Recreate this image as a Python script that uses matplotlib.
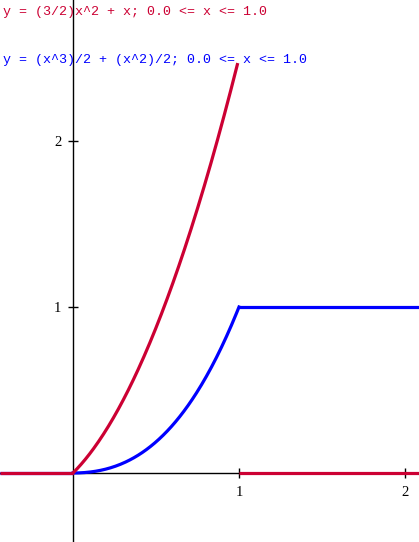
import numpy as np
import matplotlib
matplotlib.use("Agg")
import matplotlib.pyplot as plt

# Piecewise function data (polynomial coefficients, highest power first)
red_coeffs = [1.5, 1.0, 0.0]          # y = (3/2)x^2 + x on [0, 1], 0 elsewhere
blue_coeffs = [0.5, 0.5, 0.0, 0.0]    # y = x^3/2 + x^2/2 on [0, 1], 1 for x > 1
domain = [0.0, 1.0]
red_curve_end = 0.99
blue_right_value = 1.0
red_outside_value = 0.0
x_ticks = [1, 2]
y_ticks = [1, 2]
red_label = "y = (3/2)x^2 + x; 0.0 <= x <= 1.0"
blue_label = "y = (x^3)/2 + (x^2)/2; 0.0 <= x <= 1.0"

RED = "#cc0033"
BLUE = "#0000ff"
LW = 2.3

W, H = 419, 542
fig = plt.figure(figsize=(W / 100, H / 100), dpi=100)
ax = fig.add_axes([0, 0, 1, 1])

xmin, xmax = -73 / 166, (419 - 73) / 166
ymin, ymax = -(542 - 473) / 166, 473 / 166
ax.set_xlim(xmin, xmax)
ax.set_ylim(ymin, ymax)

for s in ["top", "right"]:
    ax.spines[s].set_visible(False)
ax.spines["left"].set_position(("data", 0))
ax.spines["bottom"].set_position(("data", 0))
ax.spines["left"].set_linewidth(1)
ax.spines["bottom"].set_linewidth(1)

ax.set_xticks(x_ticks)
ax.set_yticks(y_ticks)
ax.set_xticklabels([str(t) for t in x_ticks], family="Liberation Serif", fontsize=10.5)
ax.set_yticklabels([str(t) for t in y_ticks], family="Liberation Serif", fontsize=10.5)
ax.tick_params(direction="inout", length=7, width=1)
ax.tick_params(axis="x", pad=6)
ax.tick_params(axis="y", pad=5)

xs_b = np.linspace(domain[0], domain[1], 200)
xs_r = np.linspace(domain[0], red_curve_end, 200)
# blue
ax.plot([xmin, domain[0]], [0, 0], color=BLUE, lw=LW, solid_capstyle="butt", zorder=3)
ax.plot(xs_b, np.polyval(blue_coeffs, xs_b), color=BLUE, lw=LW, zorder=3)
ax.plot([domain[1], xmax], [blue_right_value, blue_right_value], color=BLUE, lw=LW,
        solid_capstyle="butt", zorder=3)
# red
ax.plot([xmin, domain[0]], [red_outside_value, red_outside_value], color=RED, lw=LW,
        solid_capstyle="butt", zorder=4)
ax.plot(xs_r, np.polyval(red_coeffs, xs_r), color=RED, lw=LW, zorder=4)
ax.plot([domain[1], xmax], [red_outside_value, red_outside_value], color=RED, lw=LW,
        solid_capstyle="butt", zorder=4)

fig.text(3 / W, 1 - 12 / H, red_label, color=RED, family="Liberation Mono",
         fontsize=9.6, va="center", ha="left")
fig.text(3 / W, 1 - 60 / H, blue_label, color=BLUE, family="Liberation Mono",
         fontsize=9.6, va="center", ha="left")

fig.savefig("out.png", dpi=100)
